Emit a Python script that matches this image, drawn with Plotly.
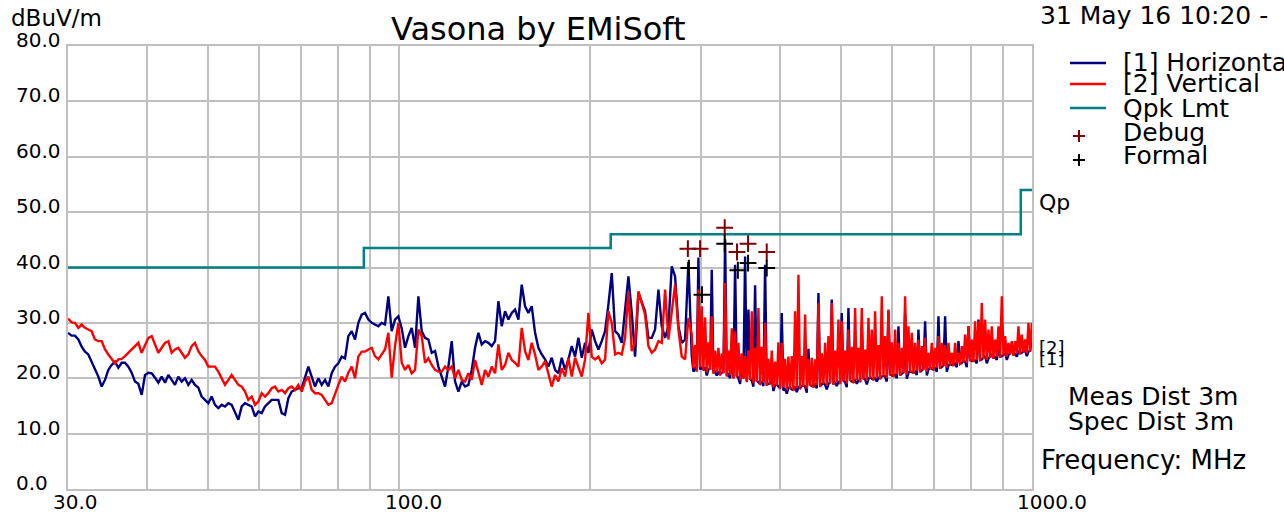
import math
import plotly.graph_objects as go

# ---------------- data ----------------
# sweep frequencies (MHz): coarse part 30..287 MHz, dense part 290..1000 MHz
freq_low = [30.0,
 30.40, 30.77, 31.15, 31.53, 31.91, 32.30, 32.69, 33.09, 33.50, 33.91,
 34.32, 34.74, 35.16, 35.59, 36.03, 36.47, 36.91, 37.36, 37.82, 38.28,
 38.75, 39.22, 39.70, 40.19, 40.68, 41.17, 41.67, 42.18, 42.70, 43.22,
 43.74, 44.27, 44.81, 45.36, 45.91, 46.47, 47.04, 47.61, 48.20, 48.78,
 49.38, 49.98, 50.59, 51.21, 51.83, 52.47, 53.11, 53.76, 54.41, 55.07,
 55.75, 56.43, 57.12, 57.81, 58.52, 59.24, 59.96, 60.69, 61.43, 62.18,
 62.94, 63.71, 64.48, 65.27, 66.07, 66.87, 67.69, 68.52, 69.35, 70.20,
 71.05, 71.92, 72.79, 73.68, 74.58, 75.49, 76.41, 77.34, 78.29, 79.24,
 80.21, 81.19, 82.18, 83.18, 84.20, 85.22, 86.26, 87.32, 88.38, 89.46,
 90.55, 91.65, 92.77, 93.90, 95.05, 96.21, 97.38, 98.57, 99.78, 100.99,
 102.23, 103.48, 104.74, 106.02, 107.31, 108.62, 109.94, 111.29, 112.64, 114.02,
 115.41, 116.82, 118.24, 119.69, 121.15, 122.62, 124.12, 125.64, 127.17, 128.72,
 130.29, 131.88, 133.49, 135.12, 136.76, 138.43, 140.12, 141.83, 143.56, 145.31,
 147.09, 148.88, 150.70, 152.54, 154.40, 156.28, 158.19, 160.12, 162.07, 164.05,
 166.05, 168.08, 170.13, 172.20, 174.30, 176.43, 178.58, 180.76, 182.97, 185.20,
 187.46, 189.75, 192.06, 194.41, 196.78, 199.18, 201.61, 204.07, 206.56, 209.08,
 211.63, 214.21, 216.83, 219.47, 222.15, 224.86, 227.60, 230.38, 233.19, 236.04,
 238.91, 241.83, 244.78, 247.76, 250.79, 253.85, 256.94, 260.08, 263.25, 266.46,
 269.71, 273.00, 276.33, 279.70, 283.11, 286.57]

freq_dense = [
 290.06, 291.83, 293.60, 295.39, 297.18, 299.00, 300.81, 302.65, 304.49, 306.35,
 308.20, 310.08, 311.96, 313.87, 315.77, 317.70, 319.62, 321.57, 323.52, 325.50,
 327.47, 329.47, 331.46, 333.48, 335.50, 337.55, 339.60, 341.67, 343.74, 345.84,
 347.93, 350.06, 352.18, 354.33, 356.47, 358.65, 360.82, 363.03, 365.23, 367.46,
 369.68, 371.94, 374.19, 376.47, 378.75, 381.07, 383.38, 385.72, 388.06, 390.43,
 392.79, 395.19, 397.58, 400.01, 402.43, 404.89, 407.34, 409.83, 412.31, 414.83,
 417.34, 419.89, 422.43, 425.01, 427.59, 430.20, 432.80, 435.45, 438.09, 440.76,
 443.43, 446.14, 448.84, 451.58, 454.32, 457.09, 459.86, 462.67, 465.47, 468.31,
 471.15, 474.03, 476.90, 479.81, 482.71, 485.66, 488.60, 491.59, 494.57, 497.59,
 500.60, 503.66, 506.71, 509.80, 512.89, 516.02, 519.15, 522.32, 525.48, 528.69,
 531.89, 535.14, 538.38, 541.67, 544.95, 548.28, 551.60, 554.97, 558.33, 561.74,
 565.14, 568.59, 572.03, 575.52, 579.01, 582.55, 586.08, 589.66, 593.23, 596.85,
 600.47, 604.13, 607.79, 611.50, 615.21, 618.96, 622.71, 626.51, 630.31, 634.16,
 638.00, 641.89, 645.78, 649.72, 653.66, 657.65, 661.64, 665.68, 669.71, 673.80,
 677.88, 682.02, 686.15, 690.34, 694.52, 698.76, 703.00, 707.29, 711.57, 715.91,
 720.25, 724.65, 729.04, 733.49, 737.94, 742.44, 746.94, 751.50, 756.05, 760.67,
 765.28, 769.95, 774.61, 779.34, 784.06, 788.85, 793.63, 798.47, 803.31, 808.21,
 813.11, 818.07, 823.03, 828.05, 833.07, 838.16, 843.24, 848.39, 853.53, 858.74,
 863.94, 869.21, 874.48, 879.82, 885.15, 890.55, 895.95, 901.41, 906.87, 912.41,
 917.94, 923.54, 929.14, 934.81, 940.47, 946.21, 951.95, 957.76, 963.56, 969.44,
 975.32, 981.27, 987.22, 993.24, 999.26]

horizontal_low = [28.2,
 27.7, 27.7, 27.0, 25.7, 24.8, 24.3, 23.0, 21.5, 20.3, 18.5,
 19.7, 21.5, 22.4, 23.0, 21.9, 22.8, 22.8, 22.1, 21.0, 19.4,
 19.0, 17.0, 20.6, 21.0, 20.9, 20.1, 19.2, 20.3, 19.2, 20.6,
 19.7, 18.8, 20.3, 19.4, 20.0, 18.8, 19.7, 18.8, 18.3, 16.7,
 16.1, 15.5, 16.7, 15.2, 14.6, 15.2, 14.9, 15.5, 15.2, 14.0,
 12.5, 14.9, 15.5, 15.2, 14.9, 13.1, 14.0, 13.7, 14.9, 15.5,
 16.1, 16.1, 16.1, 13.7, 13.4, 16.4, 17.6, 17.9, 18.2, 18.2,
 20.3, 22.1, 20.3, 18.5, 20.0, 18.8, 19.7, 18.5, 20.9, 22.1,
 22.7, 23.9, 23.6, 27.6, 28.5, 27.0, 30.0, 31.5, 31.8, 30.6,
 30.0, 29.7, 29.4, 30.0, 29.7, 34.8, 28.5, 30.6, 31.2,
 29.0, 25.5, 27.6, 29.1, 25.5, 34.8, 28.5, 27.3, 27.0, 24.6,
 24.9, 22.1, 20.3, 18.5, 22.1, 26.7, 19.4, 17.6, 19.4, 18.5,
 18.8, 21.5, 25.5, 28.2, 26.1, 26.7, 26.4, 25.8, 26.7, 33.9,
 29.4, 32.1, 30.6, 31.8, 32.4, 30.6, 36.9, 33.0, 31.8, 33.0,
 28.2, 25.5,
 24.3, 23.4, 22.1, 23.7, 21.5, 20.9, 23.7, 21.5, 23.4, 25.8,
 23.9, 27.3, 23.7, 26.4, 24.6, 28.8, 26.7, 25.2, 26.7, 28.5,
 33.3, 39.0, 28.5, 27.9, 26.4, 32.1, 38.4, 31.8, 23.9, 35.4,
 33.6, 32.1, 27.3, 27.3, 28.8, 36.0, 29.4, 27.3, 29.4, 40.2,
 38.4, 29.4, 26.4, 27.0, 41.0]

horizontal_dense = [
 24.0, 21.2, 21.8, 21.4, 41.8, 21.6, 21.9, 21.6, 22.0, 20.5,
 21.6, 21.7, 39.6, 21.0, 21.2, 20.5, 21.0, 20.7, 21.0, 21.1,
 45.1, 20.5, 20.7, 20.0, 24.0, 20.1, 40.5, 20.5, 20.0, 19.0,
 22.0, 20.1, 42.0, 19.5, 32.4, 19.9, 19.6, 18.5, 36.8, 19.6,
 19.3, 19.0, 19.5, 18.6, 40.5, 18.8, 19.0, 19.1, 20.0, 17.7,
 18.8, 18.9, 18.5, 18.2, 31.8, 17.8, 18.2, 17.2, 18.3, 18.3,
 18.0, 17.9, 18.5, 17.5, 18.4, 18.2, 18.6, 18.7, 18.5, 17.4,
 25.3, 18.8, 18.6, 18.5, 18.8, 18.2, 35.4, 18.6, 18.9, 19.2,
 18.8, 18.0, 19.0, 19.3, 34.2, 19.0, 19.2, 18.6, 19.3, 19.1,
 31.8, 19.6, 19.3, 18.4, 32.7, 19.7, 19.4, 19.3, 19.6, 19.0,
 19.6, 19.5, 29.4, 20.0, 19.8, 18.9, 19.9, 20.2, 19.9, 19.8,
 20.0, 19.4, 20.1, 20.0, 20.3, 20.5, 20.3, 19.4, 32.1, 20.7,
 20.5, 20.4, 20.6, 20.0, 29.4, 20.6, 20.8, 21.1, 31.8, 19.9,
 21.0, 21.3, 21.1, 21.0, 21.2, 20.6, 28.8, 21.2, 21.4, 21.7,
 30.3, 20.5, 21.6, 21.9, 21.7, 21.6, 21.8, 21.2, 31.2, 21.9,
 22.0, 22.4, 31.2, 21.2, 22.3, 22.6, 22.4, 22.4, 22.6, 22.0,
 26.7, 22.6, 22.8, 23.1, 23.0, 22.0, 29.4, 23.3, 23.1, 23.1,
 23.2, 22.7, 30.6, 23.3, 23.4, 23.7, 24.0, 22.7, 23.6, 23.9,
 24.2, 23.7, 23.8, 23.3, 25.8, 23.9, 24.0, 24.3, 24.5, 23.3,
 24.2, 24.5, 26.4, 24.3, 24.4, 23.9, 24.8, 24.5, 24.6, 24.9,
 25.0, 24.0, 24.8, 25.0, 27.3]

vertical_low = [30.8,
 30.1, 30.0, 29.1, 29.7, 29.1, 28.8, 28.5, 27.0, 26.7, 26.7,
 25.2, 24.3, 23.4, 22.7, 23.4, 23.5, 24.0, 24.6, 25.2, 25.8,
 26.4, 24.6, 26.1, 27.3, 27.6, 26.1, 24.6, 25.5, 26.4, 26.7,
 24.6, 25.2, 25.5, 24.6, 23.7, 24.3, 25.8, 26.4, 24.9, 24.0,
 23.3, 22.1, 22.1, 22.1, 21.2, 20.0, 18.8, 19.7, 20.6, 19.7,
 18.8, 18.5, 17.6, 16.1, 16.7, 15.2, 15.8, 17.3, 16.7, 17.3,
 18.2, 18.5, 17.6, 17.9, 17.3, 18.2, 18.5, 17.9, 18.8, 17.6,
 19.4, 20.3, 17.9, 17.3, 17.3, 17.0, 16.1, 15.2, 15.5, 17.3,
 18.8, 20.3, 19.4, 21.0, 22.1, 20.0, 23.9, 24.8, 24.8, 25.2,
 25.5, 24.0, 23.4, 24.3, 25.2, 28.2, 20.1, 25.8, 30.0,
 22.8, 21.5, 22.4, 20.9, 21.5, 28.8, 27.6, 22.8, 23.6, 22.4,
 21.5, 21.2, 21.2, 22.1, 21.5, 22.1, 20.0, 21.5, 19.7, 19.4,
 20.9, 19.7, 23.3, 21.2, 18.8, 21.5, 20.3, 22.1, 20.9, 26.1,
 21.5, 22.4, 24.6, 23.3, 22.8, 22.1, 29.1, 24.9, 23.3, 26.4,
 24.3, 21.5,
 22.1, 23.1, 20.9, 18.5, 20.6, 19.4, 21.8, 20.3, 23.7, 20.3,
 23.7, 21.8, 20.3, 23.4, 31.8, 23.9, 23.4, 23.9, 22.7, 23.4,
 32.1, 30.0, 24.3, 24.6, 24.3, 27.3, 35.7, 24.9, 26.4, 35.7,
 33.6, 31.5, 25.8, 24.6, 25.2, 26.7, 26.4, 36.0, 27.0, 31.8,
 36.9, 28.8, 23.9, 23.4, 30.9]

vertical_dense = [
 28.0, 21.8, 26.0, 21.2, 36.0, 22.0, 33.0, 21.4, 31.0, 21.0,
 26.5, 21.5, 31.2, 20.8, 25.0, 21.1, 25.5, 20.5, 24.5, 20.9,
 37.2, 20.3, 25.0, 20.6, 29.0, 19.9, 28.5, 20.3, 26.4, 19.6,
 24.5, 19.9, 24.0, 19.3, 25.0, 19.7, 32.1, 19.1, 25.5, 19.4,
 32.7, 18.8, 25.7, 19.2, 30.0, 18.6, 23.5, 18.9, 25.0, 18.3,
 23.0, 18.7, 26.5, 18.0, 26.4, 18.4, 23.5, 17.8, 23.9, 18.1,
 24.0, 17.7, 32.1, 18.2, 38.7, 18.0, 24.0, 18.5, 31.5, 18.1,
 23.4, 18.6, 23.7, 18.3, 23.4, 18.8, 33.6, 18.4, 24.5, 19.0,
 26.4, 18.6, 27.6, 19.1, 33.6, 18.8, 25.0, 19.3, 30.6, 18.9,
 30.3, 19.4, 25.0, 19.0, 28.8, 19.5, 25.7, 19.1, 32.7, 19.7,
 25.5, 19.3, 32.7, 19.8, 25.2, 19.5, 30.9, 20.0, 28.8, 19.6,
 32.1, 20.1, 26.0, 19.8, 34.8, 20.3, 27.6, 20.0, 32.4, 20.5,
 26.5, 20.2, 28.8, 20.7, 26.4, 20.4, 25.5, 20.9, 34.8, 20.6,
 29.4, 21.1, 28.2, 20.8, 26.4, 21.3, 27.0, 21.0, 25.8, 21.5,
 27.3, 21.2, 24.6, 21.7, 26.4, 21.4, 25.5, 21.9, 27.6, 21.7,
 26.4, 22.2, 26.0, 21.9, 26.4, 22.4, 24.6, 22.2, 26.4, 22.7,
 24.6, 22.4, 25.8, 22.9, 27.9, 22.7, 29.4, 23.1, 27.0, 22.9,
 30.3, 23.3, 30.3, 23.1, 33.6, 23.5, 30.6, 23.3, 28.8, 23.7,
 29.4, 23.5, 27.0, 23.9, 29.4, 23.7, 34.8, 24.1, 27.6, 23.9,
 26.4, 24.3, 26.7, 24.1, 26.7, 24.5, 29.4, 24.3, 27.9, 24.7,
 27.0, 24.5, 30.0, 24.8, 30.0]

limit_freq = [30, 88, 216, 960, 1000]
limit_val = [40, 43.5, 46, 54, 54]

debug_freq = [286, 299, 327, 342, 356, 381]
debug_val = [43.4, 43.4, 47.2, 42.8, 44.3, 42.8]
formal_freq = [287, 301, 327, 343, 356, 381]
formal_val = [39.9, 35.1, 44.3, 39.5, 40.8, 39.9]

x_grid = [30, 40, 50, 60, 70, 80, 90, 100, 200, 300, 400, 500, 600, 700, 800, 900, 1000]
x_label_text = ["30.0", "100.0", "1000.0"]
y_grid = [0, 10, 20, 30, 40, 50, 60, 70, 80]
y_labels = ["0.0", "10.0", "20.0", "30.0", "40.0", "50.0", "60.0", "70.0", "80.0"]

legend_names = ["[1] Horizontal", "[2] Vertical", "Qpk Lmt", "Debug", "Formal"]

freq = freq_low + freq_dense
horizontal = horizontal_low + horizontal_dense
vertical = vertical_low + vertical_dense
assert len(freq) == len(horizontal) == len(vertical), (len(freq), len(horizontal), len(vertical))

# ---------------- layout geometry ----------------
W, H = 1284, 515
L, R, T, B = 68, 1032, 46, 489
FONT = "DejaVu Sans"
GRID = "#C0C0C0"
NAVY, RED, TEAL, MAROON = "#000080", "#FF0000", "#008080", "#800000"
LOG_MIN, LOG_MAX = math.log10(30), 3.0


def px(xp):
    return (xp - L) / (R - L)


def py(yp):
    return (B - yp) / (B - T)


fig = go.Figure()
fig.add_trace(go.Scatter(x=freq, y=horizontal, mode="lines",
                         line=dict(color=NAVY, width=2.4), name=legend_names[0]))
fig.add_trace(go.Scatter(x=freq, y=vertical, mode="lines",
                         line=dict(color=RED, width=2.4), name=legend_names[1]))
fig.add_trace(go.Scatter(x=limit_freq, y=limit_val, mode="lines",
                         line=dict(color=TEAL, width=2.5, shape="hv"), name=legend_names[2]))
fig.add_trace(go.Scatter(x=debug_freq, y=debug_val, mode="markers",
                         marker=dict(symbol="cross-thin", size=12,
                                     line=dict(color=MAROON, width=2)),
                         name=legend_names[3], cliponaxis=False))
fig.add_trace(go.Scatter(x=formal_freq, y=formal_val, mode="markers",
                         marker=dict(symbol="cross-thin", size=12,
                                     line=dict(color="#000000", width=2)),
                         name=legend_names[4], cliponaxis=False))

ann = []
ann.append(dict(text="Vasona by EMiSoft", x=px(538), y=py(29), xref="paper", yref="paper",
                showarrow=False, xanchor="center", yanchor="middle",
                font=dict(family=FONT, size=32, color="#000")))
ann.append(dict(text="dBuV/m", x=px(9), y=py(18), xref="paper", yref="paper",
                showarrow=False, xanchor="left", yanchor="middle",
                font=dict(family=FONT, size=23, color="#000")))
ann.append(dict(text="31 May 16 10:20 -", x=px(1038), y=py(16), xref="paper", yref="paper",
                showarrow=False, xanchor="left", yanchor="middle",
                font=dict(family=FONT, size=25, color="#000")))
for v, lab in zip(y_grid, y_labels):
    ann.append(dict(text=lab, x=px(14), y=v, xref="paper", yref="y", yshift=6,
                    showarrow=False, xanchor="left", yanchor="middle",
                    font=dict(family=FONT, size=20, color="#000")))
for lab, xx in zip(x_label_text, [51, 383, 1015]):
    ann.append(dict(text=lab, x=px(xx), y=py(502), xref="paper", yref="paper",
                    showarrow=False, xanchor="left", yanchor="middle",
                    font=dict(family=FONT, size=20, color="#000")))
leg_y = [63, 84, 108, 132, 155]
for name, yy in zip(legend_names, leg_y):
    ann.append(dict(text=name, x=px(1121), y=py(yy), xref="paper", yref="paper",
                    showarrow=False, xanchor="left", yanchor="middle",
                    font=dict(family=FONT, size=25, color="#000")))
right_texts = [("Qp", 1037, 203, 22), ("[2]", 1037, 347, 18), ("[1]", 1037, 358, 18),
               ("Meas Dist 3m", 1066, 396, 25), ("Spec Dist 3m", 1066, 421, 25),
               ("Frequency: MHz", 1039, 460, 26)]
for t, xx, yy, s in right_texts:
    ann.append(dict(text=t, x=px(xx), y=py(yy), xref="paper", yref="paper",
                    showarrow=False, xanchor="left", yanchor="middle",
                    font=dict(family=FONT, size=s, color="#000")))

shapes = []
for col, yy in zip([NAVY, RED, TEAL], leg_y[:3]):
    shapes.append(dict(type="line", xref="paper", yref="paper", x0=px(1070), x1=px(1106),
                       y0=py(yy), y1=py(yy), line=dict(color=col, width=2.5)))
for col, yy in zip([MAROON, "#000000"], [136, 160]):
    shapes.append(dict(type="line", xref="paper", yref="paper", x0=px(1073), x1=px(1085),
                       y0=py(yy), y1=py(yy), line=dict(color=col, width=2)))
    shapes.append(dict(type="line", xref="paper", yref="paper", x0=px(1079), x1=px(1079),
                       y0=py(yy - 6), y1=py(yy + 6), line=dict(color=col, width=2)))

fig.update_layout(
    width=W, height=H,
    margin=dict(l=L, r=W - R, t=T, b=H - B, pad=0),
    paper_bgcolor="white", plot_bgcolor="white",
    showlegend=False,
    annotations=ann, shapes=shapes,
    xaxis=dict(type="log", range=[LOG_MIN, LOG_MAX], tickvals=x_grid, showticklabels=False,
               showgrid=True, gridcolor=GRID, gridwidth=2, zeroline=False,
               showline=True, linecolor=GRID, linewidth=2, mirror=True, ticks=""),
    yaxis=dict(range=[0, 80], tickvals=y_grid, showticklabels=False,
               showgrid=True, gridcolor=GRID, gridwidth=2, zeroline=False,
               showline=True, linecolor=GRID, linewidth=2, mirror=True, ticks=""),
)

fig.write_html("out.html", config={"displayModeBar": False},
               post_script="document.body.style.margin='0px';document.body.style.overflow='hidden';")
